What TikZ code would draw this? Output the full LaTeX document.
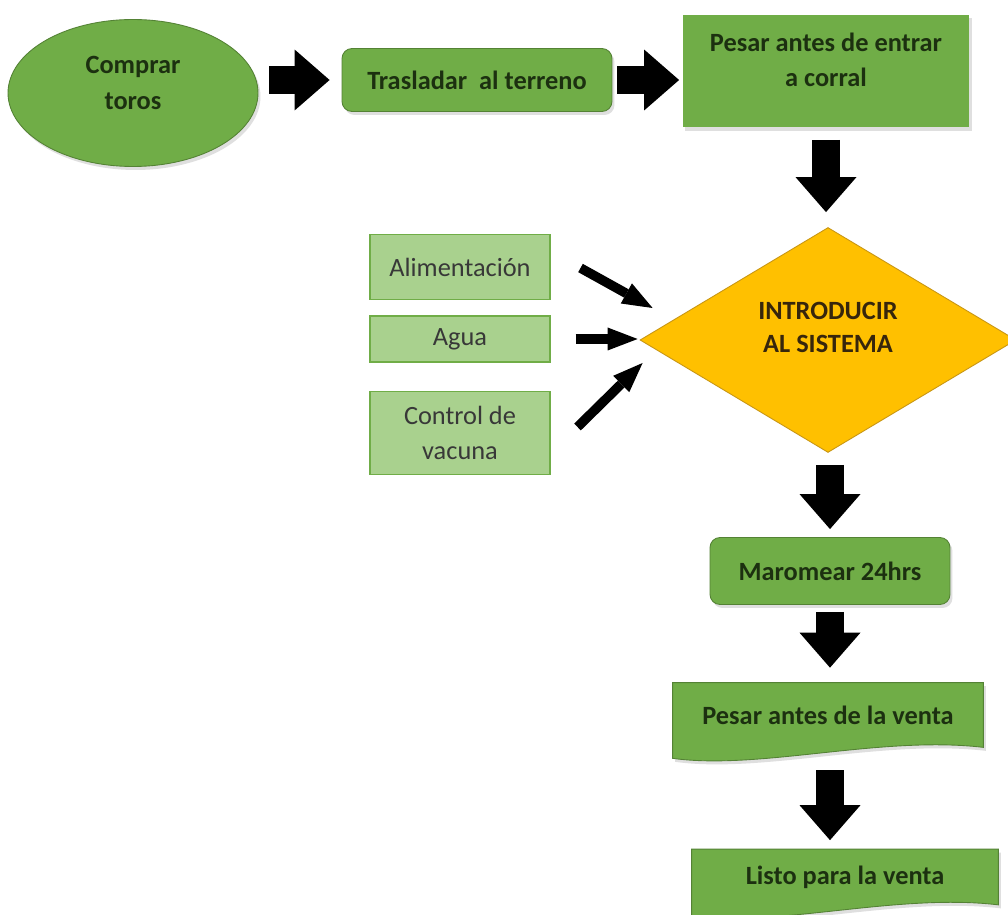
\documentclass[tikz,border=0pt]{standalone}
\usepackage{fontspec}
\setmainfont{Carlito}
\usepackage{xcolor}
\usetikzlibrary{shapes.geometric, arrows.meta, positioning, calc, shadows, backgrounds}
\definecolor{Verde}{RGB}{112,173,71}
\definecolor{VerdeOscuro}{RGB}{84,130,53}
\definecolor{VerdeClaro}{RGB}{169,209,142}
\definecolor{Ambar}{RGB}{255,192,0}
\definecolor{AmbarBorde}{RGB}{200,150,20}
\definecolor{TextoVerde}{RGB}{28,48,16}
\definecolor{TextoCafe}{RGB}{55,38,12}

\begin{document}
\begin{tikzpicture}[x=0.02cm, y=-0.02cm, font=\fontsize{15}{18}\selectfont,
    sombra/.style={drop shadow={opacity=0.25, shadow xshift=0.05cm, shadow yshift=-0.07cm}},
    paso/.style={fill=Verde, draw=VerdeOscuro, line width=0.5pt, text=TextoVerde,
        font=\fontsize{15}{18}\selectfont\bfseries, align=center, sombra},
    rotulo/.style={text=TextoVerde, font=\fontsize{15}{20}\selectfont\bfseries, align=center},
    insumo/.style={rectangle, fill=VerdeClaro, draw=Verde, line width=0.6pt,
        minimum width=3.6cm, text=black!78, align=center},
    documento/.style={rectangle, text=TextoVerde, font=\fontsize{15}{18}\selectfont\bfseries},
    flecha/.style={line width=0.56cm, -{Triangle[length=0.7cm, width=1.22cm, line width=0pt]}},
    flechita/.style={line width=0.19cm, -{Triangle[length=0.6cm, width=0.46cm, line width=0pt]}}]
    \useasboundingbox (0,0) rectangle (1008,915);

    % fila superior
    \node[paso, ellipse, minimum width=5cm, minimum height=2.94cm,
        label={[rotulo, yshift=0.2cm]center:{Comprar\\toros}}] (comprar) at (133,93) {};
    \node[paso, rectangle, rounded corners=0.2cm, minimum width=5.4cm, minimum height=1.26cm] (trasladar) at (477,80) {Trasladar\ \ al terreno};
    \node[paso, rectangle, draw=none, minimum width=5.74cm, minimum height=2.26cm,
        label={[rotulo, yshift=0.22cm]center:{Pesar antes de entrar\\a corral}}] (pesarA) at (826,71) {};

    % decision
    \node[diamond, fill=Ambar, draw=AmbarBorde, line width=0.5pt, inner sep=0pt,
        minimum width=7.52cm, minimum height=4.5cm,
        label={[rotulo, text=TextoCafe, yshift=0.25cm, font=\fontsize{15}{19}\selectfont\bfseries]center:{INTRODUCIR\\AL SISTEMA}}] (sistema) at (828,340) {};

    % insumos
    \node[insumo, minimum height=1.3cm] (alim) at (460,267) {Alimentación};
    \node[insumo, minimum height=0.92cm] (agua) at (460,339) {Agua};
    \node[insumo, minimum height=1.66cm, font=\fontsize{15}{20}\selectfont] (vacuna) at (460,433) {Control de\\vacuna};

    % salida
    \node[paso, rectangle, rounded corners=0.2cm, minimum width=4.8cm, minimum height=1.34cm] (maromear) at (830,571) {Maromear 24hrs};
    \node[documento, minimum width=6.2cm, minimum height=1.28cm] (venta) at (828,715) {Pesar antes de la venta};
    \node[documento, minimum width=6.12cm, minimum height=1.1cm] (listo) at (845,877) {Listo para la venta};

    \begin{scope}[on background layer]
        \fill[white] (0,0) rectangle (1008,915);
        \foreach \n in {venta, listo}
            \fill[Verde, draw=VerdeOscuro, line width=0.5pt, sombra] (\n.north west) -- (\n.north east) -- (\n.south east)
                .. controls ($(\n.south)+(1.04cm,0.24cm)$) and ($(\n.south)+(-1.36cm,-0.46cm)$) .. ($(\n.south west)+(0,-0.22cm)$) -- cycle;
    \end{scope}

    % flechas
    \draw[flecha, shorten <=0.22cm, shorten >=0.24cm] (comprar.east |- trasladar.west) -- (trasladar.west);
    \draw[flecha, shorten <=0.1cm, shorten >=0.06cm] (trasladar.east) -- (trasladar.east -| pesarA.west);
    \draw[flecha, shorten <=0.24cm, shorten >=0.3cm] (pesarA.south) -- (pesarA.south |- sistema.north);
    \draw[flecha, shorten <=0.24cm, shorten >=0.16cm] (maromear.north |- sistema.south) -- (maromear.north);
    \draw[flecha, shorten <=0.14cm, shorten >=0.3cm] (maromear.south) -- (maromear.south |- venta.north);
    \draw[flecha, shorten <=0.46cm, shorten >=0.18cm] (maromear.south |- venta.south) -- (maromear.south |- listo.north);

    \draw[flechita] ($(alim.east)+(0.6cm,-0.02cm)$) -- ($(sistema.west)+(0.26cm,0.64cm)$);
    \draw[flechita, shorten <=0.5cm, shorten >=0.04cm] (agua.east) -- (agua.east -| sistema.west);
    \draw[flechita] ($(vacuna.east)+(0.54cm,0.12cm)$) -- ($(sistema.west)+(0.06cm,-0.46cm)$);
\end{tikzpicture}
\end{document}
